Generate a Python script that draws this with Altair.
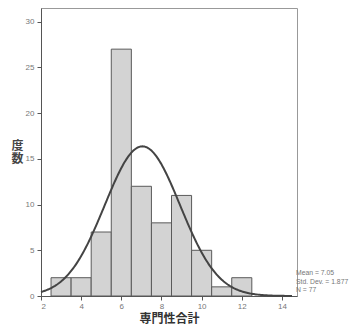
import altair as alt
import pandas as pd

# Histogram bins (centres at integers, width 1)
bin_start = [2.5, 3.5, 4.5, 5.5, 6.5, 7.5, 8.5, 9.5, 10.5, 11.5]
bin_end = [3.5, 4.5, 5.5, 6.5, 7.5, 8.5, 9.5, 10.5, 11.5, 12.5]
counts = [2, 2, 7, 27, 12, 8, 11, 5, 1, 2]

# Fitted normal parameters shown on the chart
mean_val = 7.05
sd_val = 1.877
n_val = 77

stat_lines = ["Mean = 7.05", "Std. Dev. = 1.877", "N = 77"]
x_ticks = [2, 4, 6, 8, 10, 12, 14]
y_ticks = [0, 5, 10, 15, 20, 25, 30]

bars_df = pd.DataFrame({"start": bin_start, "end": bin_end, "count": counts})
stats_df = pd.DataFrame({"txt": ["\n".join(stat_lines)]})

xscale = alt.Scale(domain=[2, 14.75], nice=False, zero=False)
yscale = alt.Scale(domain=[0, 31.5], nice=False)

label_font = "Liberation Sans"
cjk_font = "Noto Sans CJK JP"

bars = alt.Chart(bars_df).mark_bar(
    fill="#d3d3d3", stroke="#5a5a5a", strokeWidth=1
).encode(
    x=alt.X("start:Q", scale=xscale,
            axis=alt.Axis(values=x_ticks, title="専門性合計", grid=False,
                          titleFont=cjk_font, titleFontSize=12, titleFontWeight="bold",
                          titleColor="#333333", titlePadding=3,
                          labelFont=label_font, labelFontSize=8, labelColor="#777777",
                          domainColor="#555555", tickColor="#555555", tickSize=4,
                          labelPadding=2)),
    x2="end:Q",
    y=alt.Y("count:Q", scale=yscale,
            axis=alt.Axis(values=y_ticks, title=["度", "数"], grid=False,
                          titleAngle=0, titleFont=cjk_font, titleFontSize=12,
                          titleFontWeight="bold", titleColor="#444444",
                          titleAlign="center", titleBaseline="middle",
                          titleX=-24, titleY=137, titleLineHeight=13.5,
                          labelFont=label_font, labelFontSize=8, labelColor="#777777",
                          domainColor="#555555", tickColor="#555555", tickSize=4,
                          labelPadding=3)),
    y2=alt.datum(0),
)

curve = alt.Chart(alt.sequence(2, 14.55, 0.05, as_="x")).transform_calculate(
    y=f"{n_val} * exp(-0.5 * pow((datum.x - {mean_val}) / {sd_val}, 2)) / ({sd_val} * sqrt(2 * PI))"
).mark_line(color="#444444", strokeWidth=2).encode(
    x=alt.X("x:Q", scale=xscale),
    y=alt.Y("y:Q", scale=yscale),
)

stats = alt.Chart(stats_df).mark_text(
    align="left", baseline="top", font=label_font, fontSize=6.8, color="#777777",
    lineBreak="\n", lineHeight=8.5, clip=False
).encode(
    x=alt.value(255),
    y=alt.value(262),
    text="txt:N",
)

chart = alt.layer(bars, curve, stats).properties(
    width=256, height=288,
    autosize=alt.AutoSizeParams(type="none"),
    padding={"left": 33, "top": 0, "right": 52, "bottom": 28},
).configure_view(stroke="#999999", strokeWidth=1)

chart.save("out.html", embed_options={"renderer": "svg", "actions": False})
